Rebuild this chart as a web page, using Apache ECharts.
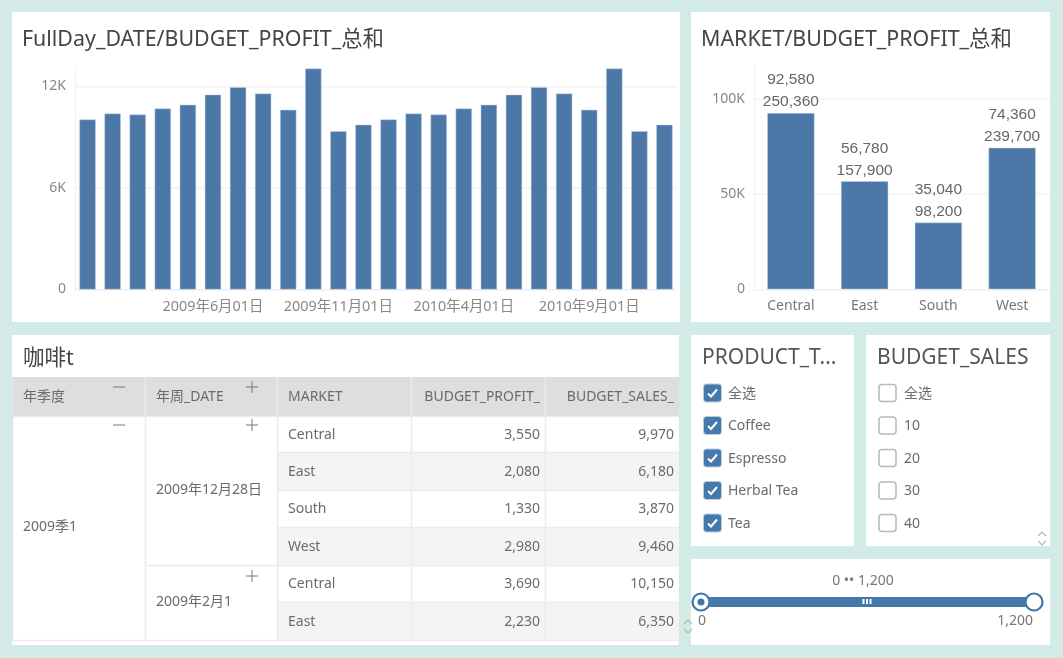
<!DOCTYPE html>
<html>
<head>
<meta charset="utf-8">
<title>咖啡t</title>
<script src="https://cdn.jsdelivr.net/npm/echarts@6/dist/echarts.min.js"></script>
<style>
html, body { margin: 0; padding: 0; background: #d3ebe7; }
#main { width: 1063px; height: 658px; }
</style>
</head>
<body>
<div id="main"></div>
<script>
var monthLabels = ['2009年1月01日','2009年2月01日','2009年3月01日','2009年4月01日','2009年5月01日','2009年6月01日',
  '2009年7月01日','2009年8月01日','2009年9月01日','2009年10月01日','2009年11月01日','2009年12月01日',
  '2010年1月01日','2010年2月01日','2010年3月01日','2010年4月01日','2010年5月01日','2010年6月01日',
  '2010年7月01日','2010年8月01日','2010年9月01日','2010年10月01日','2010年11月01日','2010年12月01日'];
var monthProfit = [10050,10400,10340,10700,10920,11520,11960,11580,10620,13060,9360,9740,
  10050,10400,10340,10700,10920,11520,11960,11580,10620,13060,9360,9740];

var markets = ['Central','East','South','West'];
var marketProfit = [92580,56780,35040,74360];
var marketSales = [250360,157900,98200,239700];

var tableHeaders = ['年季度','年周_DATE','MARKET','BUDGET_PROFIT_','BUDGET_SALES_'];
var tableMarkets = ['Central','East','South','West','Central','East'];
var tableProfit = ['3,550','2,080','1,330','2,980','3,690','2,230'];
var tableSales = ['9,970','6,180','3,870','9,460','10,150','6,350'];

var productItems = ['全选','Coffee','Espresso','Herbal Tea','Tea'];
var salesItems = ['全选','10','20','30','40'];

var FONT = '"Noto Sans", "Noto Sans CJK SC", sans-serif';
var TEXT = '#6b6b6b';
var BLUE = '#4579ab';
var BAR = '#4c78a8';
var LINE = '#ebebeb';

var els = [];
function rect(x, y, w, h, fill, z) {
  els.push({ type: 'rect', z: z === undefined ? -10 : z, silent: true,
    shape: { x: x, y: y, width: w, height: h }, style: { fill: fill } });
}
function line(x1, y1, x2, y2, color, width, z) {
  els.push({ type: 'line', z: z === undefined ? -5 : z, silent: true,
    shape: { x1: x1, y1: y1, x2: x2, y2: y2 }, style: { stroke: color, lineWidth: width || 1 } });
}
function text(str, x, y, size, align, color) {
  els.push({ type: 'text', z: 10, silent: true, x: x, y: y + 1.5,
    style: { text: str, font: size + 'px ' + FONT, fill: color || TEXT, align: align || 'left', verticalAlign: 'middle' } });
}
function poly(points, color, width, z) {
  els.push({ type: 'polyline', z: z || 10, silent: true, shape: { points: points },
    style: { stroke: color, lineWidth: width, fill: null } });
}
function chevrons(x, y) {
  poly([[x - 4, y + 4], [x, y], [x + 4, y + 4]], '#b5b5b5', 1.2);
  poly([[x - 4, y + 9], [x, y + 13], [x + 4, y + 9]], '#b5b5b5', 1.2);
}
function plus(x, y, open) {
  line(x - 6, y, x + 6, y, '#777', 1, 10);
  if (open) line(x, y - 6, x, y + 6, '#777', 1, 10);
}

// panels
rect(12, 12, 668, 310, '#fff');
rect(691, 12, 359, 310, '#fff');
rect(12, 335, 667, 310, '#fff');
rect(691, 335, 163, 211, '#fff');
rect(866, 335, 184, 211, '#fff');
rect(691, 559, 359, 86, '#fff');

// table
var colX = [12.5, 145.5, 277.5, 411.5, 545.5, 679];
var rowY = [416.5, 452.5, 490.5, 527.5, 565.5, 602.5, 640.5];
text('咖啡t', 23, 357, 21.5, 'left', '#444');
rect(12, 377, 667, 39.5, '#dedede', -8);
for (var r = 0; r < tableMarkets.length; r++) {
  if (r % 2 === 1) rect(colX[2], rowY[r], colX[5] - colX[2], rowY[r + 1] - rowY[r], '#f4f4f4', -8);
}
for (var c = 0; c < colX.length - 1; c++) {
  line(colX[c], 377, colX[c], 640.5, c === 0 ? '#e4e4e4' : LINE, 1.5);
}
for (var r = 0; r < rowY.length; r++) {
  var startX = (r === 0 || r === 4 || r === 6) ? (r === 4 ? colX[1] : colX[0]) : colX[2];
  line(startX, rowY[r], colX[5], rowY[r], LINE, 1.5);
}
text(tableHeaders[0], 23, 395.5, 14);
text(tableHeaders[1], 156, 395.5, 14);
text(tableHeaders[2], 288, 395.5, 14);
text(tableHeaders[3], 540, 395.5, 14, 'right');
text(tableHeaders[4], 674, 395.5, 14, 'right');
text('2009季1', 23, 526, 14);
text('2009年12月28日', 156, 489, 14);
text('2009年2月1', 156, 601, 14);
plus(119, 387, false);
plus(252, 387, true);
plus(119, 425, false);
plus(252, 425, true);
plus(252, 576, true);
for (var r = 0; r < tableMarkets.length; r++) {
  var my = (rowY[r] + rowY[r + 1]) / 2 - 1;
  text(tableMarkets[r], 288, my, 14);
  text(tableProfit[r], 540, my, 14, 'right');
  text(tableSales[r], 674, my, 14, 'right');
}
chevrons(688, 620);

// slicers
var slicerY = [393, 425.5, 458, 490.5, 523];
text('PRODUCT_T...', 702, 356.5, 21, 'left', '#555');
text('BUDGET_SALES', 877, 356.5, 21, 'left', '#555');
productItems.forEach(function (name, i) {
  var y = slicerY[i];
  els.push({ type: 'rect', z: 5, silent: true, shape: { x: 703.5, y: y - 9, width: 18, height: 18, r: 3 },
    style: { fill: BLUE, stroke: '#b9cbdf', lineWidth: 1 } });
  poly([[708, y + 0.5], [711, y + 3.5], [717, y - 3.5]], '#fff', 2);
  text(name, 728, y - 0.5, 14);
});
salesItems.forEach(function (name, i) {
  var y = slicerY[i];
  els.push({ type: 'rect', z: 5, silent: true, shape: { x: 879, y: y - 8.5, width: 17, height: 17, r: 3 },
    style: { fill: '#fff', stroke: '#b8b8b8', lineWidth: 1.5 } });
  text(name, 904, y - 0.5, 14);
});
chevrons(1042, 532);

// range slicer
text('0 •• 1,200', 863, 580, 14, 'center', '#777');
rect(701, 597, 333, 10, BLUE, 2);
rect(862.5, 599, 2, 5, '#fff', 3);
rect(866, 599, 2, 5, '#fff', 3);
rect(869.5, 599, 2, 5, '#fff', 3);
[701, 1034].forEach(function (cx) {
  els.push({ type: 'circle', z: 5, silent: true, shape: { cx: cx, cy: 602, r: 8.5 },
    style: { fill: '#fff', stroke: '#3f77aa', lineWidth: 2.2 } });
});
els.push({ type: 'circle', z: 6, silent: true, shape: { cx: 701, cy: 602, r: 3.5 }, style: { fill: '#3f77aa' } });
text('0', 702, 620, 14, 'center', '#777');
text('1,200', 1033, 620, 14, 'right', '#777');

function kLabel(v) { return v === 0 ? '0' : (v / 1000) + 'K'; }

var chart = echarts.init(document.getElementById('main'));
var option = {
  animation: false,
  backgroundColor: '#d3ebe7',
  textStyle: { fontFamily: FONT },
  title: [
    { text: 'FullDay_DATE/BUDGET_PROFIT_总和', left: 22, top: 29, padding: 0,
      textStyle: { fontFamily: FONT, fontSize: 21.4, fontWeight: 'normal', color: '#444' } },
    { text: 'MARKET/BUDGET_PROFIT_总和', left: 701, top: 29, padding: 0,
      textStyle: { fontFamily: FONT, fontSize: 21.4, fontWeight: 'normal', color: '#444' } }
  ],
  grid: [
    { left: 75, top: 65.7, width: 602, height: 223.8 },
    { left: 754, top: 65.7, width: 295, height: 223.6 }
  ],
  xAxis: [
    { type: 'category', gridIndex: 0, data: monthLabels,
      axisLine: { lineStyle: { color: '#f1f1f1' } },
      axisTick: { alignWithLabel: true, interval: 0, length: 4, lineStyle: { color: '#e6e6e6' } },
      axisLabel: { color: '#888', fontSize: 14.4, margin: 10, fontFamily: FONT,
        interval: function (i) { return i > 0 && i % 5 === 0; } } },
    { type: 'category', gridIndex: 1, data: markets,
      axisLine: { lineStyle: { color: '#f1f1f1' } },
      axisTick: { alignWithLabel: true, length: 4, lineStyle: { color: '#e6e6e6' } },
      axisLabel: { color: '#777', fontSize: 14, margin: 10, fontFamily: FONT } }
  ],
  yAxis: [
    { type: 'value', gridIndex: 0, min: 0, max: 13230, interval: 6000,
      axisLine: { show: true, lineStyle: { color: '#f1f1f1' } }, axisTick: { show: false },
      splitLine: { showMaxLine: false, lineStyle: { color: '#f3f3f3', width: 1.5 } },
      axisLabel: { color: '#888', fontSize: 14, margin: 9, showMaxLabel: false, fontFamily: FONT,
        padding: [3, 0, 0, 0], formatter: kLabel } },
    { type: 'value', gridIndex: 1, min: 0, max: 117500, interval: 50000,
      axisLine: { show: true, lineStyle: { color: '#f1f1f1' } }, axisTick: { show: false },
      splitLine: { showMaxLine: false, lineStyle: { color: '#f3f3f3', width: 1.5 } },
      axisLabel: { color: '#888', fontSize: 14, margin: 9, showMaxLabel: false, fontFamily: FONT,
        padding: [3, 0, 0, 0], formatter: kLabel } }
  ],
  series: [
    { type: 'bar', xAxisIndex: 0, yAxisIndex: 0, data: monthProfit, barCategoryGap: '35%',
      itemStyle: { color: BAR, borderColor: '#c3d0e0', borderWidth: 0.5 } },
    { type: 'bar', xAxisIndex: 1, yAxisIndex: 1, data: marketProfit, barCategoryGap: '36%',
      itemStyle: { color: BAR, borderColor: '#c3d0e0', borderWidth: 0.5 },
      label: { show: true, position: 'top', distance: 0, color: '#666', fontSize: 15.5, lineHeight: 22,
        fontFamily: '"Liberation Sans", Arial, sans-serif',
        formatter: function (p) {
          return echarts.format.addCommas(p.value) + '\n' + echarts.format.addCommas(marketSales[p.dataIndex]);
        } } }
  ],
  graphic: { elements: els }
};
chart.setOption(option);
</script>
</body>
</html>
